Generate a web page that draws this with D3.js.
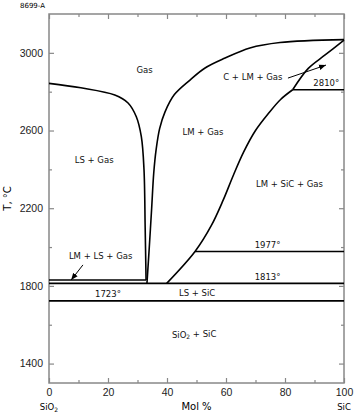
<!DOCTYPE html>
<html>
<head>
<meta charset="utf-8">
<script src="https://cdn.jsdelivr.net/npm/d3@7"></script>
<style>
  body { margin: 0; background: #fff; }
  svg { font-family: "DejaVu Sans", sans-serif; }
</style>
</head>
<body>
<svg id="chart"></svg>
<script>
// phase boundaries, [mol % SiC, T in °C]
var gasLeft = [[0,2843],[10.8,2820],[22.3,2783],[26.8,2742],[29.6,2671],[31.3,2568],[32.2,2400],[32.6,2100],[32.9,1830]];
var gasRight = [[33.2,1813],[34.0,2000],[34.8,2200],[35.5,2380],[36.3,2500],[37.5,2610],[39.3,2695],[42.5,2785],[47.8,2860],[52.9,2922],[59.7,2973],[68.1,3025],[78.3,3053],[100,3068]];
var liquidus = [[39.9,1813],[49.5,1977],[55,2110],[59,2240],[62.5,2370],[66,2490],[70,2600],[74.5,2690],[78.5,2760],[82.6,2810]];
var carbonEdge = [[82.6,2810],[87.9,2920],[93.6,2989],[100,3066]];

// isotherms
var isoT = [1830, 1813, 1723, 1977, 2810];
var isoFrom = [0, 0, 0, 49.5, 82.6];
var isoTo = [32.9, 100, 100, 100, 100];

// region and temperature labels
var labelText = ["Gas", "LS + Gas", "LM + Gas", "C + LM + Gas", "2810°", "LM + SiC + Gas", "1977°", "1813°", "1723°", "LS + SiC", "SiO2 + SiC", "LM + LS + Gas"];
var labelX = [32.4, 15.3, 52.2, 69.1, 94, 81.5, 74.1, 74.1, 20, 50.2, 49.2, 17.5];
var labelT = [2912, 2448, 2594, 2876, 2843, 2325, 2009, 1847, 1757, 1762, 1549, 1954];

// arrows [x0, T0, x1, T1]
var arrows = [[11.5,1908,7.5,1830],[81,2870,93.9,2937]];

var xMajor = [0, 20, 40, 60, 80, 100];
var xMinor = [10, 30, 50, 70, 90];
var yMajor = [1400, 1800, 2200, 2600, 3000];
var yMinor = [1600, 2000, 2400, 2800];

var W = 354, H = 412;
var margin = {top: 14, right: 10, bottom: 29, left: 49},
    width = W - margin.left - margin.right,
    height = H - margin.top - margin.bottom;

var svg = d3.select("#chart").attr("width", W).attr("height", H);

svg.append("text")
  .attr("x", 20).attr("y", 8)
  .style("font-size", "7px")
  .text("8699-A");

var g = svg.append("g").attr("transform", "translate(" + margin.left + "," + margin.top + ")");

var x = d3.scaleLinear().domain([0, 100]).range([0, width]);
var y = d3.scaleLinear().domain([1300, 3200]).range([height, 0]);

function styleAxis(sel) {
  sel.select(".domain").remove();
  sel.selectAll("line").attr("stroke", "#888").attr("stroke-width", 1.2);
  sel.selectAll("text").style("font-size", "10.5px").attr("fill", "#222");
}

// major ticks
g.append("g").attr("transform", "translate(0," + height + ")")
  .call(d3.axisBottom(x).tickValues(xMajor).tickSize(-5).tickPadding(6).tickFormat(d3.format("d")))
  .call(styleAxis);
g.append("g")
  .call(d3.axisLeft(y).tickValues(yMajor).tickSize(-5).tickPadding(6).tickFormat(d3.format("d")))
  .call(styleAxis);
g.append("g")
  .call(d3.axisTop(x).tickValues(xMajor).tickSize(-5).tickFormat(""))
  .call(styleAxis);
g.append("g").attr("transform", "translate(" + width + ",0)")
  .call(d3.axisRight(y).tickValues(yMajor).tickSize(-5).tickFormat(""))
  .call(styleAxis);
// minor ticks
g.append("g").attr("transform", "translate(0," + height + ")")
  .call(d3.axisBottom(x).tickValues(xMinor).tickSize(-3).tickFormat(""))
  .call(styleAxis);
g.append("g")
  .call(d3.axisTop(x).tickValues(xMinor).tickSize(-3).tickFormat(""))
  .call(styleAxis);
g.append("g")
  .call(d3.axisLeft(y).tickValues(yMinor).tickSize(-3).tickFormat(""))
  .call(styleAxis);
g.append("g").attr("transform", "translate(" + width + ",0)")
  .call(d3.axisRight(y).tickValues(yMinor).tickSize(-3).tickFormat(""))
  .call(styleAxis);

g.append("rect")
  .attr("width", width).attr("height", height)
  .attr("fill", "none").attr("stroke", "#888").attr("stroke-width", 1.5);

// boundaries
var line = d3.line()
  .x(function(d) { return x(d[0]); })
  .y(function(d) { return y(d[1]); })
  .curve(d3.curveCatmullRom.alpha(0.5));

[gasLeft, gasRight, liquidus, carbonEdge].forEach(function(c) {
  g.append("path").datum(c)
    .attr("d", line)
    .attr("fill", "none").attr("stroke", "#000").attr("stroke-width", 1.6);
});

g.selectAll(".iso").data(isoT).enter().append("line")
  .attr("class", "iso")
  .attr("x1", function(d, i) { return x(isoFrom[i]); })
  .attr("x2", function(d, i) { return x(isoTo[i]); })
  .attr("y1", function(d) { return y(d); })
  .attr("y2", function(d) { return y(d); })
  .attr("stroke", "#000").attr("stroke-width", 1.6);

// arrows
svg.append("defs").append("marker")
  .attr("id", "head").attr("viewBox", "0 0 10 10")
  .attr("refX", 10).attr("refY", 5)
  .attr("markerWidth", 7).attr("markerHeight", 7)
  .attr("orient", "auto")
  .append("path").attr("d", "M0,1L10,5L0,9Z").attr("fill", "#000");

g.selectAll(".arrow").data(arrows).enter().append("line")
  .attr("class", "arrow")
  .attr("x1", function(d) { return x(d[0]); })
  .attr("y1", function(d) { return y(d[1]); })
  .attr("x2", function(d) { return x(d[2]); })
  .attr("y2", function(d) { return y(d[3]); })
  .attr("stroke", "#000").attr("stroke-width", 1)
  .attr("marker-end", "url(#head)");

// labels
labelText.forEach(function(t, i) {
  var txt = g.append("text")
    .attr("x", x(labelX[i])).attr("y", y(labelT[i]))
    .attr("dy", "0.35em")
    .attr("text-anchor", "middle")
    .style("font-size", "8.5px")
    .attr("fill", "#111");
  if (t.indexOf("SiO2") === 0) {
    txt.append("tspan").text("SiO");
    txt.append("tspan").attr("dy", "0.3em").style("font-size", "6px").text("2");
    txt.append("tspan").attr("dy", "-0.3em").text(" + SiC");
  } else {
    txt.text(t);
  }
});

// axis titles
var sio2 = g.append("text")
  .attr("x", x(0)).attr("y", height + 27)
  .attr("text-anchor", "middle").style("font-size", "8.5px");
sio2.append("tspan").text("SiO");
sio2.append("tspan").attr("dy", "0.3em").style("font-size", "6px").text("2");

g.append("text")
  .attr("x", x(100)).attr("y", height + 27)
  .attr("text-anchor", "middle").style("font-size", "8.5px")
  .text("SiC");

g.append("text")
  .attr("x", width / 2).attr("y", height + 27)
  .attr("text-anchor", "middle").style("font-size", "10px")
  .text("Mol %");

g.append("text")
  .attr("transform", "translate(" + (-38) + "," + (height / 2) + ") rotate(-90)")
  .attr("text-anchor", "middle").style("font-size", "10px")
  .text("T, °C");
</script>
</body>
</html>
